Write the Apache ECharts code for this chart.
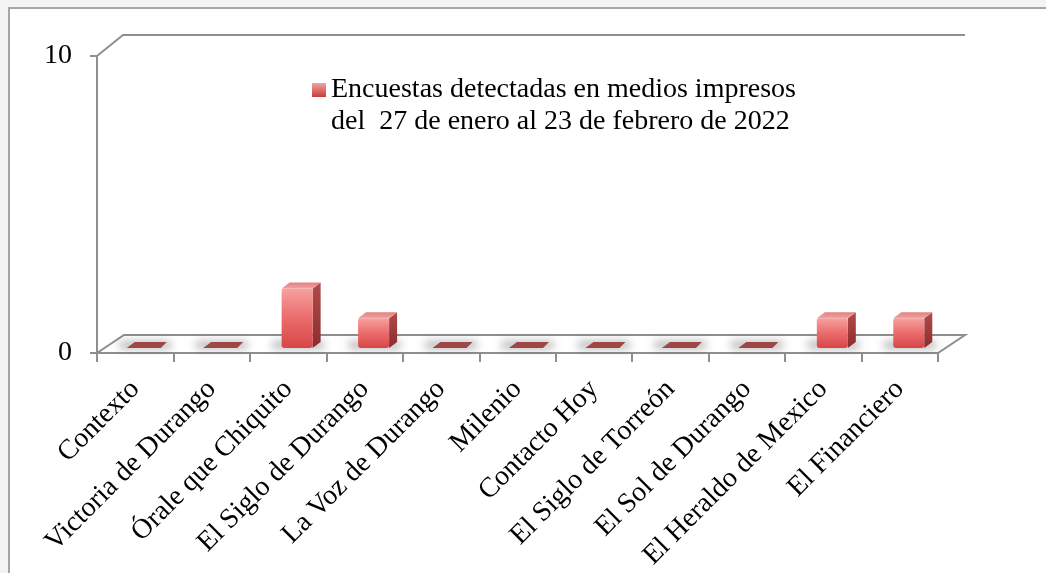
<!DOCTYPE html>
<html>
<head>
<meta charset="utf-8">
<script src="https://cdn.jsdelivr.net/npm/echarts@6/dist/echarts.min.js"></script>
<style>
html,body{margin:0;padding:0;background:#f3f3f3;}
#c{width:1046px;height:573px;}
</style>
</head>
<body>
<div id="c"></div>
<script>
const categories = ['Contexto','Victoria de Durango','Órale que Chiquito','El Siglo de Durango','La Voz de Durango','Milenio','Contacto Hoy','El Siglo de Torreón','El Sol de Durango','El Heraldo de Mexico','El Financiero'];
const values = [0,0,2,1,0,0,0,0,0,1,1];
const seriesName = 'Encuestas detectadas en medios impresos\ndel  27 de enero al 23 de febrero de 2022';
const yMin = 0, yMax = 10, yInterval = 10;

const FONT = 'Liberation Serif';
const FS = 28;
const AXIS = '#8f8f8f';

function lg(x2, y2, stops){
  return {type:'linear', x:0, y:0, x2:x2, y2:y2, colorStops: stops.map(s=>({offset:s[0], color:s[1]}))};
}

const chart = echarts.init(document.getElementById('c'), null, {renderer:'canvas'});

function renderFloor(params, api){
  const cs = params.coordSys;
  const x = cs.x, y = cs.y, w = cs.width, h = cs.height;
  const fdx = 27, fdy = -18, wdx = 26, wdy = -21;
  return {
    type:'group',
    children:[
      {type:'polygon', shape:{points:[[x,y+h],[x+w,y+h],[x+w+fdx,y+h+fdy],[x+fdx,y+h+fdy]]},
       style:{fill:'#ffffff', stroke:AXIS, lineWidth:2}},
      {type:'polyline', shape:{points:[[x,y],[x+wdx,y+wdy],[x+w+fdx,y+wdy]]},
       style:{fill:null, stroke:AXIS, lineWidth:2}}
    ]
  };
}

function renderBar(params, api){
  const idx = api.value(0), v = api.value(1);
  const base = api.coord([idx, 0]);
  const top = api.coord([idx, v]);
  const bw = 31, dx = 8, dy = -6;
  const cx = base[0] + 9;
  const x0 = cx - bw/2, x1 = cx + bw/2;
  const yb = base[1] - 5;
  const yt = top[1] - 5;
  const children = [];
  const OFF = 3000;
  children.push({type:'rect', shape:{x:x0-10-OFF, y:yb-7, width:bw+22, height:8, r:4},
    style:{fill:'#000', shadowColor:'rgba(0,0,0,0.28)', shadowBlur:9, shadowOffsetX:OFF, shadowOffsetY:0}});
  if (v <= 0) {
    children.push({type:'polygon', shape:{points:[[x0-2,yb],[x1+1,yb],[x1+dx-1,yb+dy],[x0+dx-2,yb+dy]]},
      style:{fill:'#9f4646'}});
  } else {
    children.push({type:'polygon', shape:{points:[[x1,yt],[x1+dx,yt+dy],[x1+dx,yb+dy],[x1,yb]]},
      style:{fill:lg(0,1,[[0,'#b24b4b'],[1,'#8c2c2c']])}});
    children.push({type:'polygon', shape:{points:[[x0,yt],[x1,yt],[x1+dx,yt+dy],[x0+dx,yt+dy]]},
      style:{fill:lg(0,1,[[0,'#e48080'],[1,'#f3a2a2']])}});
    children.push({type:'rect', shape:{x:x0, y:yt, width:bw, height:yb-yt, r:[2,2,3,3]},
      style:{fill:lg(0,1,[[0,'#f7a0a0'],[0.45,'#ec7070'],[1,'#d84545']])}});
  }
  return {type:'group', children};
}

chart.setOption({
  animation:false,
  backgroundColor:'#f3f3f3',
  graphic:[
    {type:'rect', z:-10, shape:{x:9, y:8, width:1100, height:620},
     style:{fill:'#ffffff', stroke:'#a6a6a6', lineWidth:2}}
  ],
  legend:{
    show:true,
    left:312, top:42, padding:0,
    itemWidth:14, itemHeight:14, icon:'rect',
    formatter:function(name){ return '\n' + name; },
    data:[{name:seriesName, itemStyle:{color:lg(0,1,[[0,'#f3a3a3'],[1,'#c63c3c']])}}],
    textStyle:{fontFamily:FONT, fontSize:FS, color:'#000', lineHeight:32}
  },
  grid:{left:97, right:108, top:56, bottom:220, containLabel:false},
  xAxis:{
    type:'category', data:categories, boundaryGap:true,
    axisLine:{show:true, lineStyle:{color:AXIS, width:2}},
    axisTick:{show:true, length:9, alignWithLabel:false, lineStyle:{color:AXIS, width:2}},
    axisLabel:{interval:0, rotate:45, margin:32, fontFamily:FONT, fontSize:FS, color:'#000'},
    splitLine:{show:false}
  },
  yAxis:{
    type:'value', min:yMin, max:yMax, interval:yInterval,
    axisLine:{show:true, lineStyle:{color:AXIS, width:2}},
    axisTick:{show:true, length:7, lineStyle:{color:AXIS, width:2}},
    axisLabel:{margin:25, fontFamily:FONT, fontSize:FS, color:'#000', padding:[6,0,0,0]},
    splitLine:{show:false}
  },
  series:[
    {type:'custom', name:'floor', z:1, silent:true, data:[[0,0]], renderItem:renderFloor, legendHoverLink:false},
    {type:'custom', name:seriesName, z:3, itemStyle:{color:'#d84545'},
     encode:{x:0, y:1}, data:values.map((v,i)=>[i,v]), renderItem:renderBar}
  ]
});
</script>
</body>
</html>
